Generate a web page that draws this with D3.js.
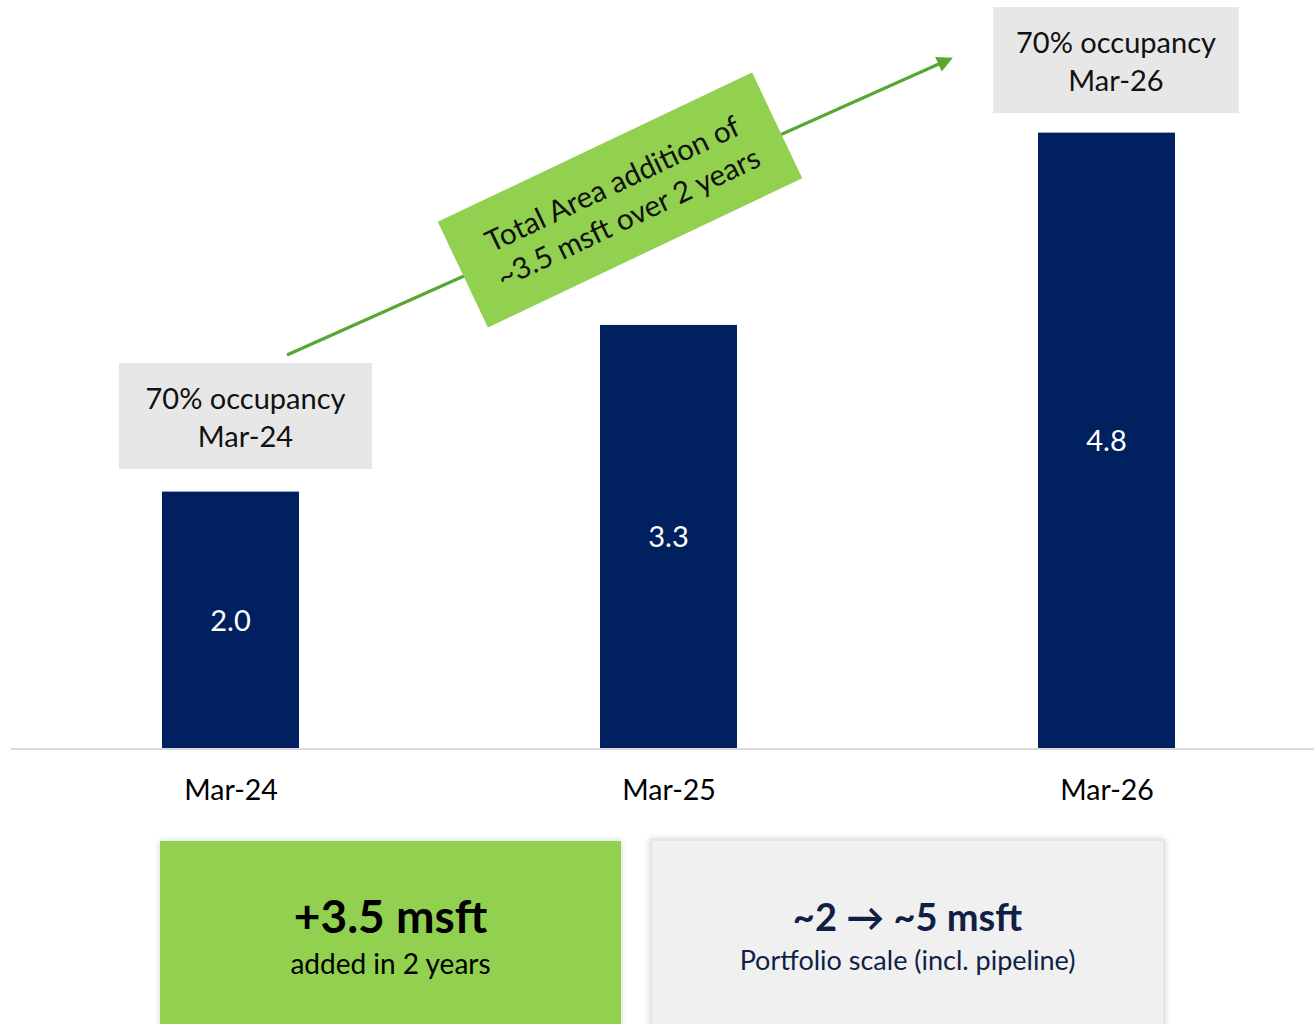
<!DOCTYPE html>
<html>
<head>
<meta charset="utf-8">
<script src="https://cdn.jsdelivr.net/npm/d3@7"></script>
<style>
  html, body { margin: 0; padding: 0; background: #ffffff; }
  svg { display: block; }
  text { font-family: "Lato", "Open Sans", sans-serif; }
</style>
</head>
<body>
<script>
// ---- data ----
const categories = ["Mar-24", "Mar-25", "Mar-26"];
const values = [2.0, 3.3, 4.8];
const valueLabels = ["2.0", "3.3", "4.8"];
const occupancyNotes = [
  { category: "Mar-24", lines: ["70% occupancy", "Mar-24"] },
  { category: "Mar-26", lines: ["70% occupancy", "Mar-26"] }
];
const arrowLabel = ["Total Area addition of", "~3.5 msft over 2 years"];
const kpiGreen = ["+3.5 msft", "added in 2 years"];
const kpiGray = ["~2 \u2192 ~5 msft", "Portfolio scale (incl. pipeline)"];

// ---- layout ----
const W = 1314, H = 1024;
const baseY = 748;
const barW = 137;
const navy = "#002060";
const green = "#92d050";

const svg = d3.select("body").append("svg").attr("width", W).attr("height", H);

const defs = svg.append("defs");
const sh = defs.append("filter").attr("id", "shadow").attr("x", "-10%").attr("y", "-10%").attr("width", "120%").attr("height", "120%");
sh.append("feDropShadow").attr("dx", 0).attr("dy", 0).attr("stdDeviation", 3).attr("flood-color", "#000").attr("flood-opacity", 0.18);
defs.append("marker").attr("id", "arrowhead").attr("viewBox", "0 0 10 10")
  .attr("refX", 8).attr("refY", 5).attr("markerWidth", 5).attr("markerHeight", 5)
  .attr("orient", "auto").attr("markerUnits", "strokeWidth")
  .append("path").attr("d", "M0,0 L10,5 L0,10 z").attr("fill", "#56a832");

const x = d3.scalePoint().domain(categories).range([230.5, 1106.5]);
const y = d3.scaleLinear().domain([0, 5]).range([baseY, baseY - 641]);

// baseline
svg.append("line").attr("x1", 11).attr("x2", W).attr("y1", baseY + 1).attr("y2", baseY + 1)
  .attr("stroke", "#d9d9d9").attr("stroke-width", 2);

// bars
svg.selectAll("rect.bar").data(values).join("rect").attr("class", "bar")
  .attr("x", (d, i) => x(categories[i]) - barW / 2)
  .attr("y", d => y(d))
  .attr("width", barW)
  .attr("height", d => baseY - y(d))
  .attr("fill", navy);

// value labels
svg.selectAll("text.val").data(values).join("text").attr("class", "val")
  .attr("x", (d, i) => x(categories[i]))
  .attr("y", d => (y(d) + baseY) / 2)
  .attr("dy", "0.38em")
  .attr("text-anchor", "middle")
  .attr("fill", "#ffffff")
  .attr("font-size", 29)
  .text((d, i) => valueLabels[i]);

// category axis labels
const xAxis = d3.axisBottom(x).tickSize(0).tickPadding(0);
const gx = svg.append("g").attr("transform", `translate(0,${baseY})`).call(xAxis);
gx.select(".domain").remove();
gx.selectAll("text").attr("y", 42).attr("dy", "0.36em")
  .attr("font-size", 28.5).attr("fill", "#000")
  .attr("font-family", "Lato, 'Open Sans', sans-serif");

// occupancy notes
const notes = svg.selectAll("g.note").data(occupancyNotes).join("g").attr("class", "note");
notes.each(function (d) {
  const i = categories.indexOf(d.category);
  const cx = x(d.category) + (i === 0 ? 15 : 9.5);
  const top = y(values[i]) - (i === 0 ? 128.5 : 125.5);
  const g = d3.select(this);
  const bw = i === 0 ? 253 : 246;
  g.append("rect").attr("x", cx - bw / 2).attr("y", top).attr("width", bw).attr("height", 106)
    .attr("fill", "#e7e7e7");
  d.lines.forEach((t, k) => {
    g.append("text").attr("x", cx).attr("y", top + 35 + k * 38.5).attr("dy", "0.36em")
      .attr("text-anchor", "middle").attr("font-size", 29).attr("fill", "#111").text(t);
  });
});

// growth arrow
svg.append("line").attr("x1", 287).attr("y1", 355).attr("x2", 950).attr("y2", 59)
  .attr("stroke", "#56a832").attr("stroke-width", 3.2)
  .attr("marker-end", "url(#arrowhead)");

// rotated label box
const lab = svg.append("g").attr("transform", "translate(620,200) rotate(-25.4)");
lab.append("rect").attr("x", -174).attr("y", -58.5).attr("width", 348).attr("height", 117).attr("fill", green);
arrowLabel.forEach((t, k) => {
  lab.append("text").attr("x", 0).attr("y", -18 + k * 37).attr("dy", "0.36em")
    .attr("text-anchor", "middle").attr("font-size", 29.5).attr("fill", "#111").text(t);
});

// KPI boxes
svg.append("rect").attr("x", 160).attr("y", 841).attr("width", 461).attr("height", 200)
  .attr("fill", green).attr("filter", "url(#shadow)");
svg.append("text").attr("x", 390.5).attr("y", 916).attr("dy", "0.36em").attr("text-anchor", "middle")
  .attr("font-size", 46).attr("font-weight", 700).attr("fill", "#000").text(kpiGreen[0]);
svg.append("text").attr("x", 390.5).attr("y", 964).attr("dy", "0.36em").attr("text-anchor", "middle")
  .attr("font-size", 28).attr("fill", "#000").text(kpiGreen[1]);

svg.append("rect").attr("x", 651).attr("y", 840).attr("width", 513).attr("height", 200)
  .attr("fill", "#f0f0f0").attr("stroke", "#dde5f0").attr("stroke-width", 2).attr("filter", "url(#shadow)");
svg.append("text").attr("x", 907.5).attr("y", 917).attr("dy", "0.36em").attr("text-anchor", "middle")
  .attr("font-size", 38).attr("font-weight", 700).attr("fill", "#0f1f45").text(kpiGray[0]);
svg.append("text").attr("x", 907.5).attr("y", 960).attr("dy", "0.36em").attr("text-anchor", "middle")
  .attr("font-size", 27).attr("fill", "#0f1f45").text(kpiGray[1]);
</script>
</body>
</html>
